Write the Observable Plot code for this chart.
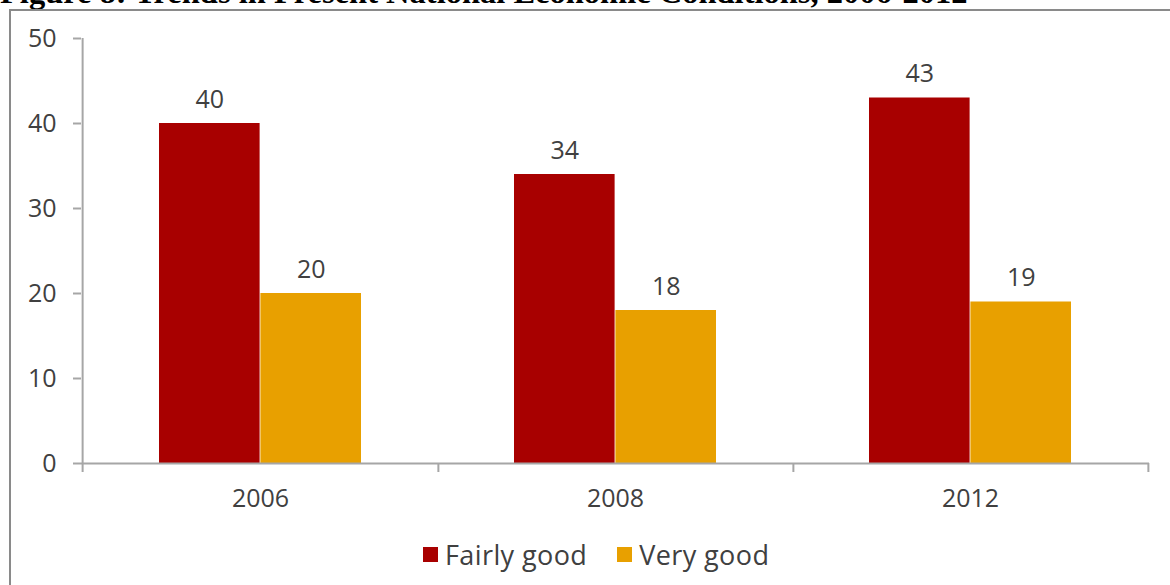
<!DOCTYPE html>
<html>
<head>
<meta charset="utf-8">
<script src="https://cdn.jsdelivr.net/npm/d3@7"></script>
<script src="https://cdn.jsdelivr.net/npm/@observablehq/plot@0.6"></script>
<style>
  html, body { margin: 0; padding: 0; background: #fff; overflow: hidden; }
  #page { position: relative; width: 1170px; height: 585px; overflow: hidden; }
  #title { position: absolute; left: 0; top: -24px; font-family: "Liberation Serif", "Times New Roman", serif; font-weight: bold; font-size: 32.5px; line-height: 32px; white-space: nowrap; color: #000; }
  #frame { position: absolute; left: 9px; top: 9px; width: 1300px; height: 700px; border: 2px solid #8a8a8a; box-sizing: border-box; }
  #chart { position: absolute; left: 0; top: 0; }
  #legend { position: absolute; top: 536px; left: 423px; display: flex; align-items: center; font-family: "Open Sans", sans-serif; font-size: 27px; letter-spacing: 0.4px; color: #404040; white-space: nowrap; }
  .item { display: flex; align-items: center; margin-right: 30px; }
  .sw { width: 15px; height: 15px; margin-right: 7px; }
</style>
</head>
<body>
<div id="page">
  <div id="title">Figure 8: Trends in Present National Economic Conditions, 2006-2012</div>
  <div id="frame"></div>
  <div id="chart"></div>
  <div id="legend"></div>
</div>
<script>
const years = ["2006", "2008", "2012"];
const fairlyGood = [40, 34, 43];
const veryGood = [20, 18, 19];
const seriesNames = ["Fairly good", "Very good"];
const seriesColors = ["#A80000", "#E8A000"];
const yTicks = [0, 10, 20, 30, 40, 50];

const rows = years.flatMap((yr, i) => [
  {year: yr, series: seriesNames[0], value: fairlyGood[i]},
  {year: yr, series: seriesNames[1], value: veryGood[i]}
]);
const first = rows.filter(d => d.series === seriesNames[0]);
const second = rows.filter(d => d.series === seriesNames[1]);

const W = 1170, H = 520, ML = 81, MR = 21, MT = 38, MB = 57;
const padIn = 0.43, padOut = 0.216;
const step = (W - ML - MR) / (years.length - padIn + 2 * padOut);
const bw = step * (1 - padIn);
const axisGray = "#a6a6a6";
const textGray = "#404040";

const chart = Plot.plot({
  width: W, height: H,
  marginLeft: ML, marginRight: MR, marginTop: MT, marginBottom: MB,
  style: {fontFamily: "Open Sans, sans-serif", fontSize: "25px", color: textGray, background: "transparent", overflow: "visible"},
  x: {type: "band", domain: years, paddingInner: padIn, paddingOuter: padOut, label: null},
  y: {domain: [0, yTicks[yTicks.length - 1]], nice: false, label: null},
  color: {domain: seriesNames, range: seriesColors},
  marks: [
    Plot.barY(first, {x: "year", y: "value", fill: "series", insetRight: bw / 2}),
    Plot.barY(second, {x: "year", y: "value", fill: "series", insetLeft: bw / 2}),
    Plot.text(first, {x: "year", y: "value", text: d => String(d.value), dx: -bw / 4, dy: -24, fill: textGray, fontSize: 25}),
    Plot.text(second, {x: "year", y: "value", text: d => String(d.value), dx: bw / 4, dy: -24, fill: textGray, fontSize: 25}),
    Plot.ruleY([0], {stroke: axisGray, strokeWidth: 2}),
    Plot.ruleX([years[0]], {x: d => d, y1: yTicks[yTicks.length - 1], y2: 0, dx: -step / 2, insetBottom: -9, stroke: axisGray, strokeWidth: 2}),
    Plot.ruleX(years, {x: d => d, y1: 0, y2: 0, dx: step / 2, insetBottom: -9, stroke: axisGray, strokeWidth: 2}),
    Plot.axisY({ticks: yTicks, tickSize: 8, tickPadding: 17, stroke: axisGray, strokeWidth: 2, fill: textGray, fontSize: 25, label: null}),
    Plot.axisX({tickSize: 0, tickPadding: 26, fill: textGray, fontSize: 25, label: null})
  ]
});
document.getElementById("chart").appendChild(chart);

const legend = document.getElementById("legend");
seriesNames.forEach((name, i) => {
  const item = document.createElement("div");
  item.className = "item";
  const sw = document.createElement("div");
  sw.className = "sw";
  sw.style.background = seriesColors[i];
  const label = document.createElement("span");
  label.textContent = name;
  item.appendChild(sw);
  item.appendChild(label);
  legend.appendChild(item);
});
</script>
</body>
</html>
